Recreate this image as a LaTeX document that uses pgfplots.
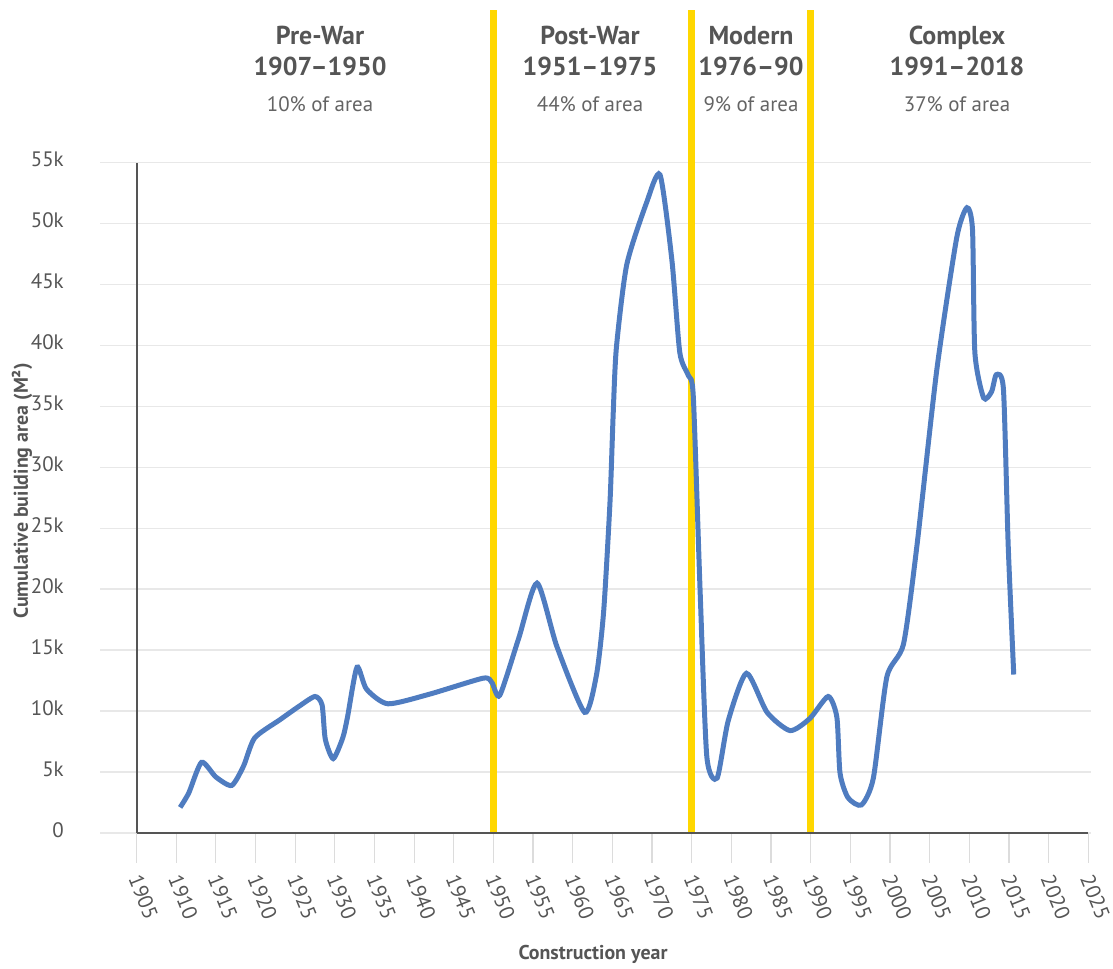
\documentclass[border=0pt]{standalone}
\usepackage{pgfplots}
\pgfplotsset{compat=1.18}
\usepackage{fontspec}
\setmainfont{PT Sans}

\definecolor{lineblue}{RGB}{79,124,192}
\definecolor{eragold}{RGB}{255,215,0}
\definecolor{txt}{RGB}{85,85,85}
\definecolor{subtxt}{RGB}{100,100,100}
\definecolor{gridgray}{RGB}{232,232,232}
\definecolor{tickgray}{RGB}{220,220,220}

\begin{document}
\begin{tikzpicture}
\useasboundingbox (-68.25bp,-68bp) rectangle (488.25bp,416.5bp);
\begin{axis}[
  scale only axis, width=475.9bp, height=335.2bp,
  xmin=1905, xmax=2025, ymin=0, ymax=55,
  axis lines*=left,
  axis on top,
  axis line style={draw=txt, line width=1bp},
  clip=false,
  xtick={1905,1910,...,2025},
  ytick={0,5,...,55},
  yticklabels={0,5k,10k,15k,20k,25k,30k,35k,40k,45k,50k,55k},
  tick align=outside,
  major tick length=14.85bp,
  ytick style={draw=none},
  xtick style={draw=tickgray, line width=0.6bp},
  tick label style={font=\fontsize{10.5}{12}\selectfont, text=txt},
  yticklabel style={anchor=east, xshift=-18bp, yshift=1.5bp},
  xticklabel style={anchor=north, inner sep=0pt, xshift=3.5bp, yshift=-5bp},
  xticklabel={\rotatebox{-68}{\pgfmathprintnumber[assume math mode=true,1000 sep={},fixed,precision=0]{\tick}}},
]
% grid lines, extended a little past the y axis
\pgfplotsinvokeforeach{0,5,...,55}{
  \draw[gridgray, line width=0.75bp] (axis cs:1900.4,#1) -- (axis cs:2025.3,#1);
}
% era dividers
\draw[eragold, line width=3.5bp] (axis cs:1950,0) -- (axis cs:1950,67.5);
\draw[eragold, line width=3.5bp] (axis cs:1975,0) -- (axis cs:1975,67.5);
\draw[eragold, line width=3.5bp] (axis cs:1990,0) -- (axis cs:1990,67.5);

\addplot[lineblue, line width=2.5bp, smooth, tension=0.4] coordinates {
(1910.5,2.1) (1911.6,3.3) (1913.2,5.8) (1915.0,4.6) (1917.0,3.9)
(1918.5,5.5) (1919.9,7.8) (1923.1,9.3) (1925.5,10.4) (1927.5,11.2)
(1928.4,10.5) (1928.8,7.7) (1929.8,6.1) (1931.0,7.8) (1931.6,9.5)
(1932.8,13.6) (1934.0,11.8) (1936.7,10.6) (1942.0,11.4) (1948.7,12.7)
(1949.8,12.35) (1950.8,11.3) (1953.2,16.0) (1955.5,20.5) (1958.0,15.3)
(1961.5,9.9) (1963.0,13.0) (1963.9,18.2) (1964.7,27.2) (1965.1,34.4)
(1965.5,39.8) (1966.8,46.6) (1969.3,51.7) (1971.0,54.0) (1972.5,47.0)
(1973.5,39.4) (1974.6,37.5) (1975.2,35.8) (1976.05,20.0) (1976.9,6.3)
(1978.2,4.5) (1979.6,9.2) (1981.9,13.1) (1984.5,9.9) (1987.4,8.4)
(1989.9,9.4) (1992.2,11.2) (1993.3,9.5) (1993.7,4.9) (1994.7,2.9)
(1996.4,2.3) (1997.9,4.5) (1999.6,12.8) (2001.7,15.5) (2003.4,23.6)
(2005.9,38.0) (2008.4,48.8) (2009.7,51.3) (2010.4,49.5) (2010.7,39.4)
(2011.8,35.7) (2012.8,36.2) (2013.4,37.6) (2014.3,36.4) (2014.9,23.6)
(2015.6,13.0)
};
\end{axis}

% era headings
\begin{scope}[every node/.style={anchor=base, inner sep=0pt}]
\foreach \cx/\name/\yrs/\share in {91.75/Pre-War/1907–1950/10,
    226.75/Post-War/1951–1975/44,
    307.25/Modern/1976–90/9,
    410.25/Complex/1991–2018/37}{
  \node[text=txt, font=\bfseries\fontsize{13}{15}\selectfont] at (\cx bp,394bp) {\name};
  \node[text=txt, font=\bfseries\fontsize{13}{15}\selectfont] at (\cx bp,378.5bp) {\yrs};
  \node[text=subtxt, font=\fontsize{10.5}{12}\selectfont] at (\cx bp,360.5bp) {\share\% of area};
}
\end{scope}

% axis titles
\node[rotate=90, text=txt, font=\bfseries\fontsize{10}{12}\selectfont] at (-57.25bp,171bp) {Cumulative building area (M²)};
\node[anchor=base, text=txt, font=\bfseries\fontsize{10}{12}\selectfont] at (228.25bp,-63bp) {Construction year};
\end{tikzpicture}
\end{document}
